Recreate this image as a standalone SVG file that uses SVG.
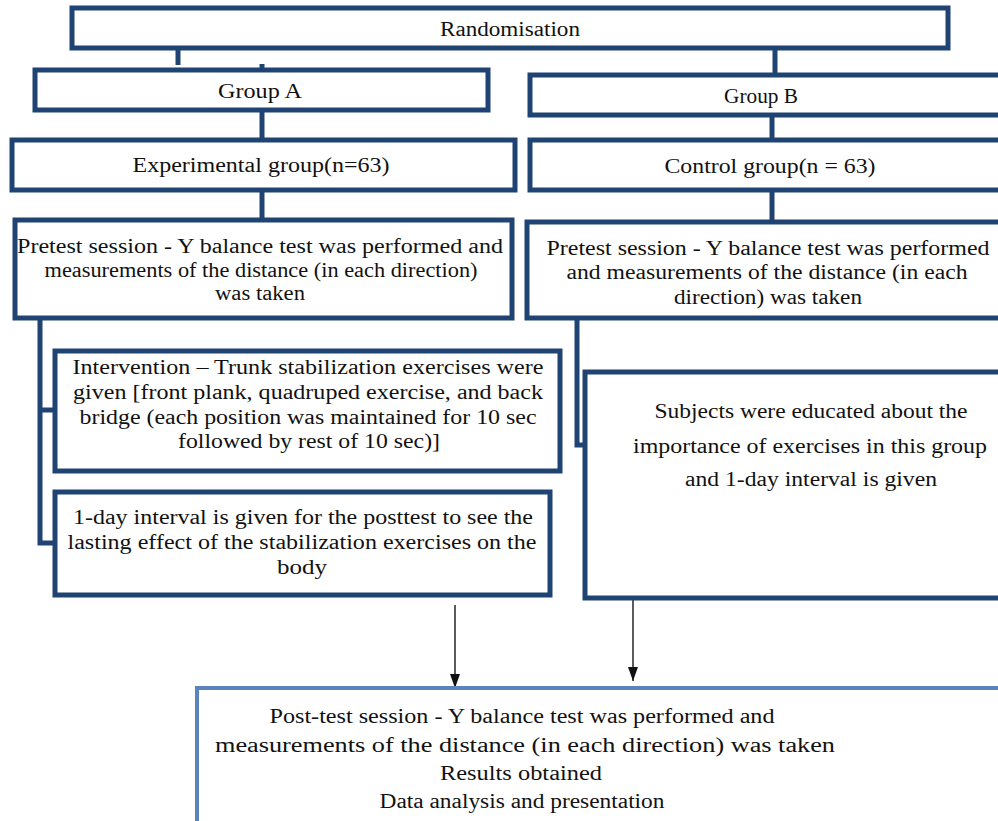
<svg xmlns="http://www.w3.org/2000/svg" width="998" height="821" viewBox="0 0 998 821">
<style>
.box{fill:#fff;stroke:#1f4474;stroke-width:5}
.post{fill:#fff;stroke:#5b84bd;stroke-width:4}
.con{fill:none;stroke:#1f4474;stroke-width:5}
.arr{fill:none;stroke:#333;stroke-width:1.6}
.t text{font-family:"Liberation Serif","DejaVu Serif",serif;font-size:20px;fill:#111;text-anchor:middle}
</style>
<defs>
<marker id="ah" viewBox="0 0 14 10" refX="14" refY="5" markerWidth="14" markerHeight="10" markerUnits="userSpaceOnUse" orient="auto">
<path d="M0,0 L14,5 L0,10 Z" fill="#111"/>
</marker>
</defs>
<g id="connectors">
<path class="con" d="M178,48 V65"/>
<path class="con" d="M262,64 V70"/>
<path class="con" d="M775,48 V75"/>
<path class="con" d="M262,110 V140"/>
<path class="con" d="M772,115 V140"/>
<path class="con" d="M262,190 V220"/>
<path class="con" d="M772,190 V222"/>
<path class="con" d="M40,318 V543 H55 M40,410 H55"/>
<path class="con" d="M577,318 V445 H585"/>
<path class="arr" d="M455,605 V688" marker-end="url(#ah)"/>
<path class="arr" d="M633,600 V681" marker-end="url(#ah)"/>
</g>
<g class="t">
<g id="randomisation">
<rect class="box" x="72" y="8" width="876" height="40"/>
<text x="510" y="36" textLength="140" lengthAdjust="spacingAndGlyphs">Randomisation</text>
</g>
<g id="groupA">
<rect class="box" x="35" y="70" width="453" height="40"/>
<text x="260" y="98" textLength="84" lengthAdjust="spacingAndGlyphs">Group A</text>
</g>
<g id="groupB">
<rect class="box" x="530" y="75" width="480" height="40"/>
<text x="761" y="103" textLength="74" lengthAdjust="spacingAndGlyphs">Group B</text>
</g>
<g id="experimental">
<rect class="box" x="12" y="140" width="503" height="50"/>
<text x="261" y="172" textLength="257" lengthAdjust="spacingAndGlyphs">Experimental  group(n=63)</text>
</g>
<g id="control">
<rect class="box" x="530" y="140" width="480" height="50"/>
<text x="770" y="173" textLength="211" lengthAdjust="spacingAndGlyphs">Control group(n = 63)</text>
</g>
<g id="pretestA">
<rect class="box" x="15" y="220" width="497" height="98"/>
<text x="260" y="253" textLength="486" lengthAdjust="spacingAndGlyphs">Pretest session - Y balance  test was performed and</text>
<text x="261" y="277" textLength="433" lengthAdjust="spacingAndGlyphs">measurements  of the distance  (in each direction)</text>
<text x="260" y="300" textLength="90" lengthAdjust="spacingAndGlyphs">was taken</text>
</g>
<g id="pretestB">
<rect class="box" x="527" y="222" width="483" height="96"/>
<text x="768" y="255" textLength="443" lengthAdjust="spacingAndGlyphs">Pretest session - Y balance  test was performed</text>
<text x="767" y="279" textLength="401" lengthAdjust="spacingAndGlyphs">and measurements  of the distance (in each</text>
<text x="768" y="304" textLength="188" lengthAdjust="spacingAndGlyphs">direction)  was taken</text>
</g>
<g id="intervention">
<rect class="box" x="55" y="351" width="505" height="120"/>
<text x="308" y="374" textLength="471" lengthAdjust="spacingAndGlyphs">Intervention – Trunk stabilization  exercises  were</text>
<text x="308" y="399" textLength="470" lengthAdjust="spacingAndGlyphs">given [front plank, quadruped exercise,  and back</text>
<text x="308" y="424" textLength="457" lengthAdjust="spacingAndGlyphs">bridge (each position was maintained  for 10 sec</text>
<text x="309" y="448" textLength="262" lengthAdjust="spacingAndGlyphs">followed by rest of 10 sec)]</text>
</g>
<g id="interval">
<rect class="box" x="55" y="492" width="495" height="103"/>
<text x="303" y="524" textLength="460" lengthAdjust="spacingAndGlyphs">1-day interval  is given  for the posttest to see the</text>
<text x="302" y="549" textLength="469" lengthAdjust="spacingAndGlyphs">lasting effect of the stabilization  exercises  on the</text>
<text x="302" y="574" textLength="50" lengthAdjust="spacingAndGlyphs">body</text>
</g>
<g id="subjects">
<rect class="box" x="585" y="372" width="425" height="226"/>
<text x="811" y="418" textLength="313" lengthAdjust="spacingAndGlyphs">Subjects were educated  about the</text>
<text x="810" y="453" textLength="354" lengthAdjust="spacingAndGlyphs">importance of exercises in this group</text>
<text x="811" y="486" textLength="252" lengthAdjust="spacingAndGlyphs">and 1-day interval is given</text>
</g>
<g id="posttest">
<rect class="post" x="197" y="688" width="820" height="150"/>
<text x="522" y="723" textLength="505" lengthAdjust="spacingAndGlyphs">Post-test session - Y balance test was performed and</text>
<text x="525" y="752" textLength="620" lengthAdjust="spacingAndGlyphs">measurements  of the distance  (in each direction) was taken</text>
<text x="521" y="780" textLength="162" lengthAdjust="spacingAndGlyphs">Results obtained</text>
<text x="522" y="808" textLength="285" lengthAdjust="spacingAndGlyphs">Data analysis and presentation</text>
</g>
</g>
</svg>
